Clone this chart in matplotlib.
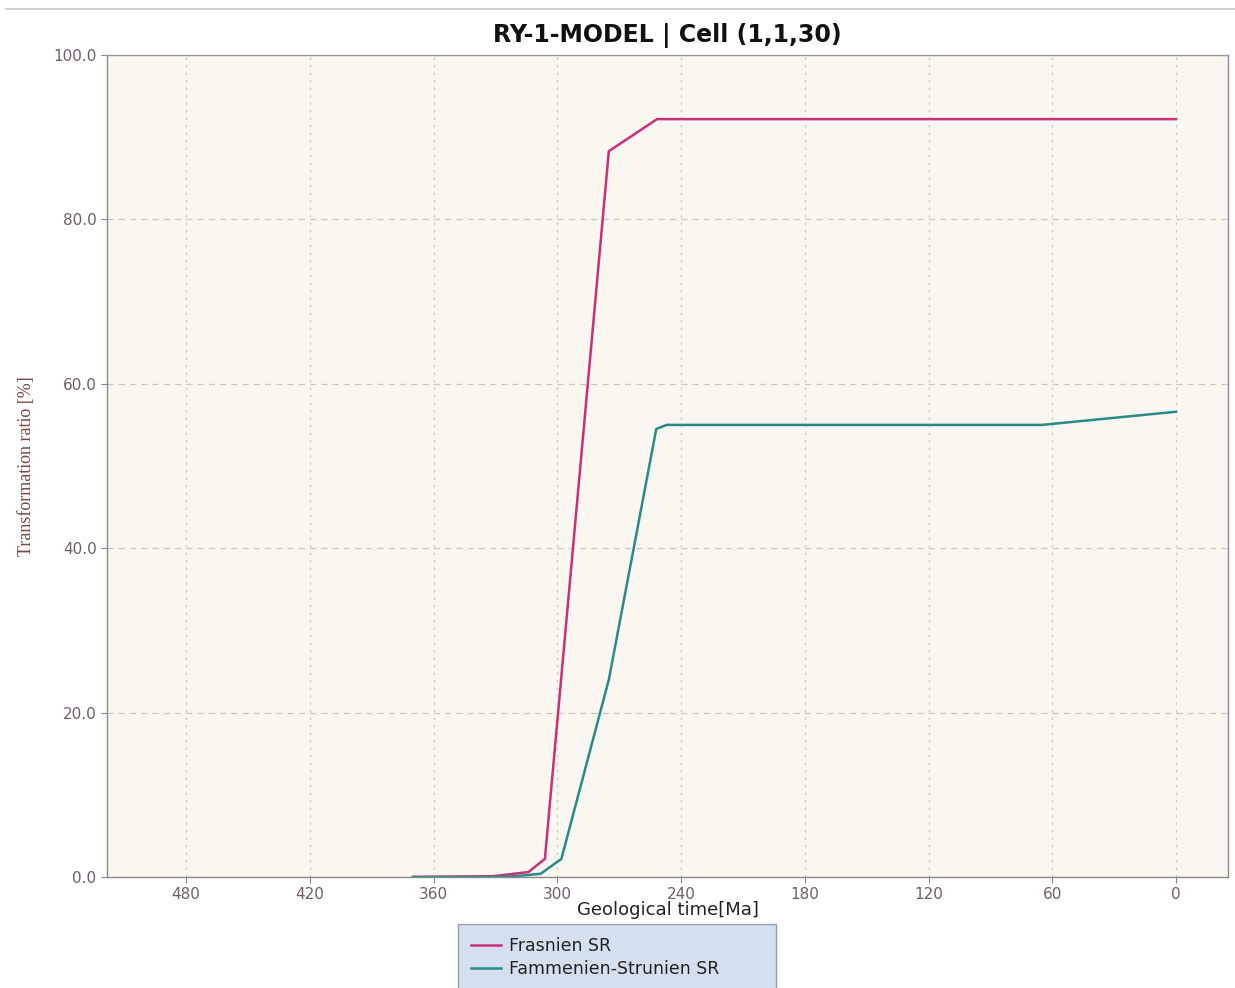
import matplotlib
matplotlib.use("Agg")
import matplotlib.pyplot as plt
from matplotlib.lines import Line2D

plt.rcParams["font.family"] = ["DejaVu Sans"]

# ---- data ----
frasnien_age = [370, 331, 314, 306, 275, 251.6, 247, 65, 0]
frasnien_tr = [0.0, 0.1, 0.6, 2.2, 88.3, 92.2, 92.2, 92.2, 92.2]

famm_age = [370, 331, 320, 308, 298, 275, 252, 247, 65, 0]
famm_tr = [0.0, 0.0, 0.1, 0.4, 2.2, 24.0, 54.5, 55.0, 55.0, 56.6]

xticks = [480, 420, 360, 300, 240, 180, 120, 60, 0]
yticks = [0, 20, 40, 60, 80, 100]
series_names = ["Frasnien SR", "Fammenien-Strunien SR"]
title = "RY-1-MODEL | Cell (1,1,30)"

fig = plt.figure(figsize=(12.35, 9.88), dpi=100)
fig.patch.set_facecolor("white")
ax = fig.add_axes([107/1235, 1-877/988, (1228-107)/1235, (877-55)/988])
ax.set_facecolor("#faf6f0")

ax.plot(frasnien_age, frasnien_tr, color="#c8307a", lw=1.8, label=series_names[0])
ax.plot(famm_age, famm_tr, color="#2a8a88", lw=1.8, label=series_names[1])

ax.set_xlim(518.3, -25.2)
ax.set_ylim(0, 100)
ax.set_xticks(xticks)
ax.set_xticklabels([str(v) for v in xticks])
ax.set_yticks(yticks)
ax.set_yticklabels([f"{v:.1f}" for v in yticks])
ax.tick_params(axis="both", labelsize=11, colors="#888888", labelcolor="#6e6060",
               length=4, width=0.8)

ax.grid(axis="x", color="#c8c8c8", linestyle=(0, (2, 4)), lw=0.9)
ax.grid(axis="y", color="#c8c8c8", linestyle=(0, (5, 4)), lw=0.9)
ax.set_axisbelow(True)

for s in ax.spines.values():
    s.set_color("#8a8a8a")
    s.set_linewidth(1.0)
ax.spines["top"].set_color("#9a9a9a")

ax.set_xlabel("Geological time[Ma]", fontsize=13, color="#222222", labelpad=-1)
ax.set_ylabel("Transformation ratio [%]", fontsize=13, color="#7a4a40",
              family="Liberation Serif", labelpad=13)
ax.set_title(title, fontsize=17, fontweight="bold", family="DejaVu Sans",
             color="#111111", pad=9)

leg = fig.legend(loc="upper left",
                 bbox_to_anchor=(458/1235, 1-925/988, 318/1235, 0.001),
                 mode="expand",
                 fontsize=12.5, frameon=True, fancybox=False,
                 facecolor="#d4e0ef", edgecolor="#9aa0a8", framealpha=1,
                 handlelength=1.7, handletextpad=0.5, borderpad=0.75,
                 labelspacing=0.3, borderaxespad=0)
leg.get_frame().set_linewidth(1.0)
for t in leg.get_texts():
    t.set_color("#222222")

fig.add_artist(Line2D([6/1235, 1], [1-9/988, 1-9/988], color="#c8c8c0", lw=1.2))

fig.savefig("out.png", dpi=100, facecolor="white")
